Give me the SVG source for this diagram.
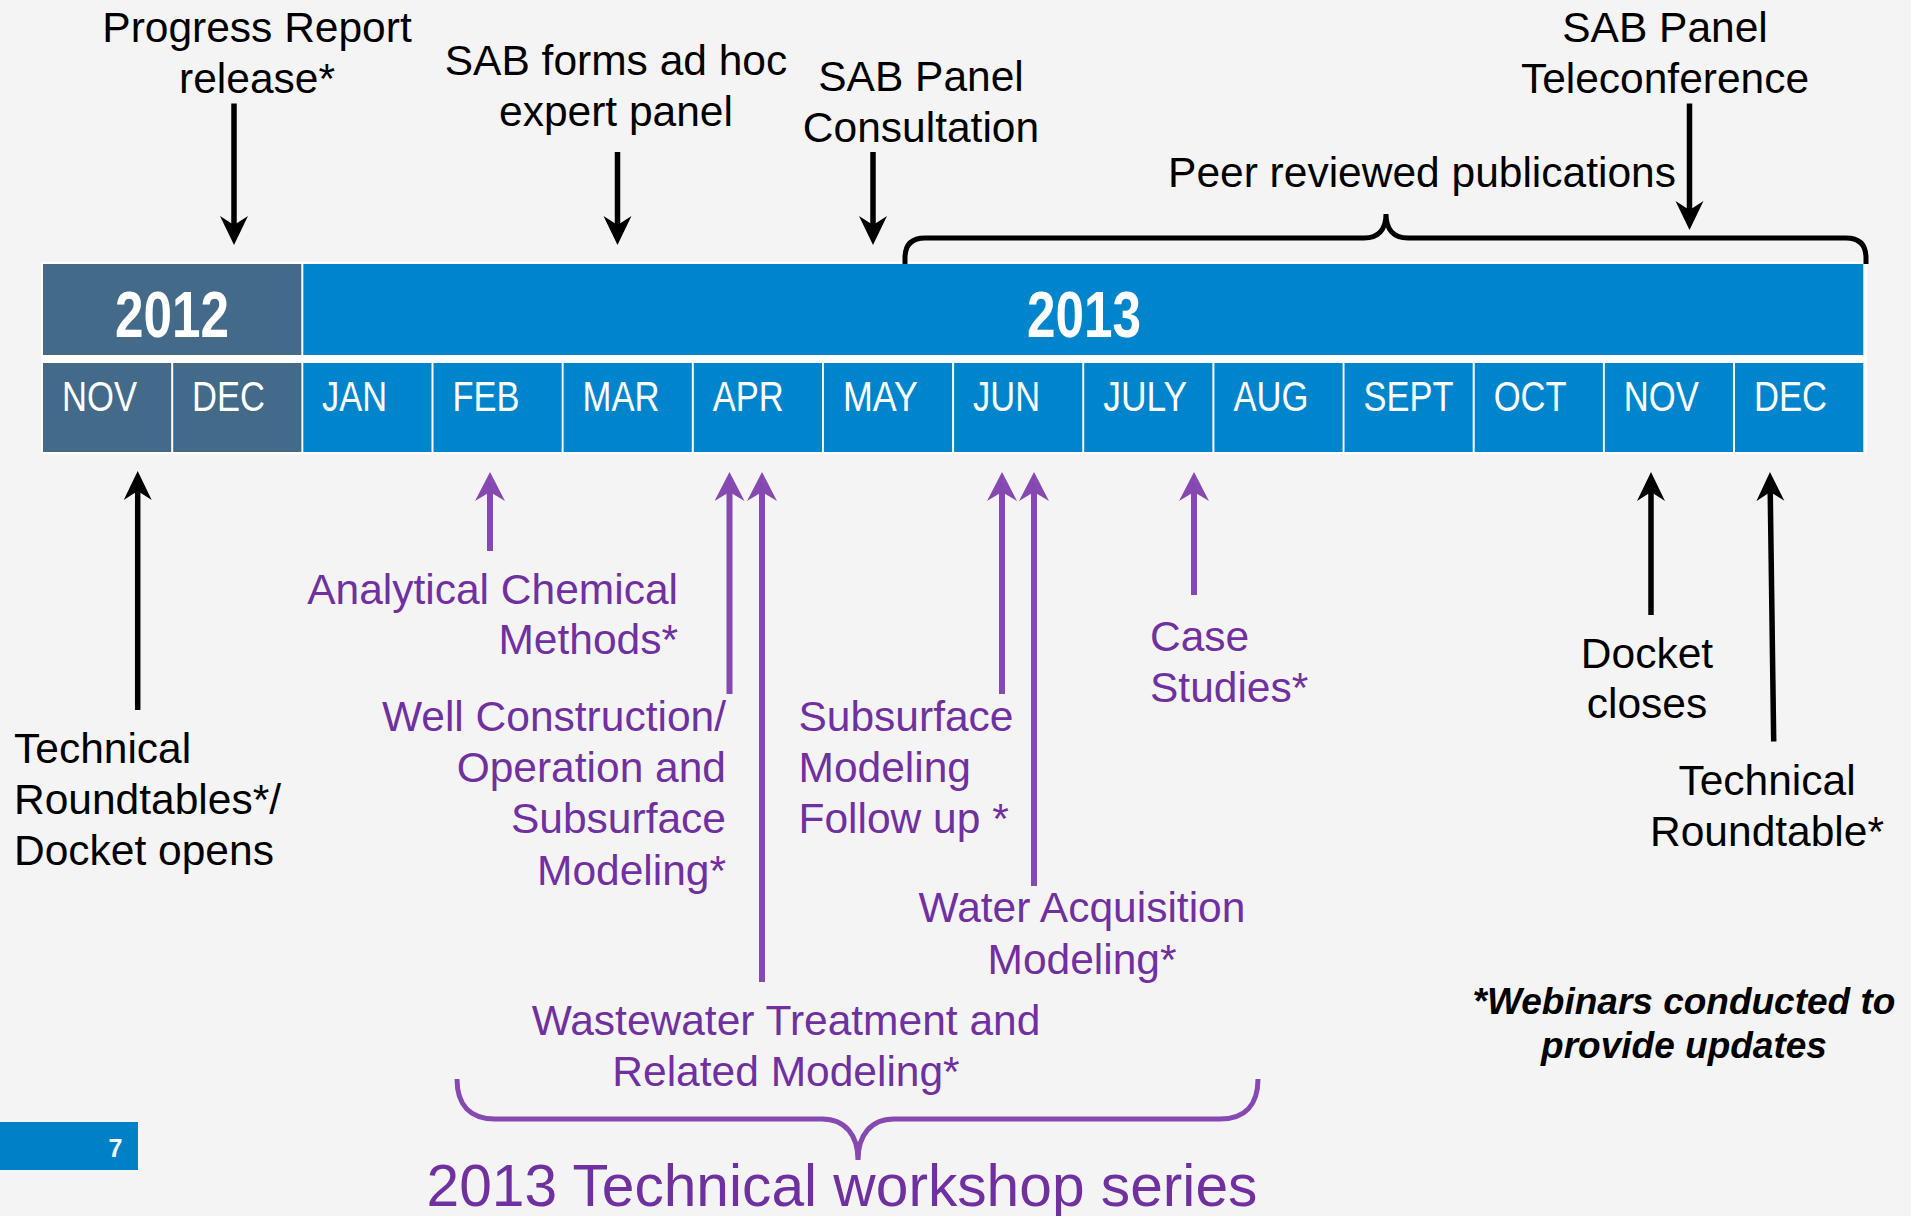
<svg xmlns="http://www.w3.org/2000/svg" width="1911" height="1216" viewBox="0 0 1911 1216">
<style>
text{font-family:"Liberation Sans",Arial,sans-serif}
.lbl{font-size:42.5px;fill:#000}
.pl{font-size:42.5px;fill:#7030a0}
.mid{text-anchor:middle}
.end{text-anchor:end}
.mon{font-family:"Liberation Sans Narrow","Liberation Sans",Arial,sans-serif;font-size:42.5px;fill:#fff}
.yr{font-family:"Liberation Sans Narrow","Liberation Sans",Arial,sans-serif;font-size:64px;font-weight:bold;fill:#fff;text-anchor:middle}
.c12{fill:#436a88}
.c13{fill:#0085cc}
.note{font-size:37px;font-weight:bold;font-style:italic;fill:#000}
.ab{stroke:#000;stroke-width:5.5;fill:none;marker-end:url(#hb)}
.ap{stroke:#8549b1;stroke-width:6;fill:none;marker-end:url(#hp)}
</style>
<defs>
<marker id="hb" markerUnits="userSpaceOnUse" markerWidth="30" markerHeight="30" viewBox="0 -15 30 30" refX="12" refY="0" orient="auto"><path d="M0,-14 L29,0 L0,14 L9,0 Z" fill="#000"/></marker>
<marker id="hp" markerUnits="userSpaceOnUse" markerWidth="30" markerHeight="30" viewBox="0 -15 30 30" refX="12" refY="0" orient="auto"><path d="M0,-15 L29,0 L0,15 L9,0 Z" fill="#8549b1"/></marker>
</defs>
<rect x="0" y="0" width="1911" height="1216" fill="#f4f4f4"/>

<g id="timeline">
<rect x="41" y="262" width="1826" height="192" fill="#fff"/>
<rect class="c12" x="43" y="264" width="258.3" height="91"/>
<rect class="c13" x="303.3" y="264" width="1560" height="91"/>
<text class="yr" x="172" y="337" textLength="114" lengthAdjust="spacingAndGlyphs">2012</text>
<text class="yr" x="1084" y="337" textLength="114" lengthAdjust="spacingAndGlyphs">2013</text>
<rect class="c12" x="43" y="363" width="128.2" height="89"/>
<rect class="c12" x="173.2" y="363" width="128.2" height="89"/>
<rect class="c13" x="303.3" y="363" width="128.2" height="89"/>
<rect class="c13" x="433.5" y="363" width="128.2" height="89"/>
<rect class="c13" x="563.6" y="363" width="128.2" height="89"/>
<rect class="c13" x="693.8" y="363" width="128.2" height="89"/>
<rect class="c13" x="823.9" y="363" width="128.2" height="89"/>
<rect class="c13" x="954.1" y="363" width="128.2" height="89"/>
<rect class="c13" x="1084.2" y="363" width="128.2" height="89"/>
<rect class="c13" x="1214.4" y="363" width="128.2" height="89"/>
<rect class="c13" x="1344.5" y="363" width="128.2" height="89"/>
<rect class="c13" x="1474.7" y="363" width="128.2" height="89"/>
<rect class="c13" x="1604.8" y="363" width="128.2" height="89"/>
<rect class="c13" x="1735" y="363" width="128.3" height="89"/>
<text class="mon" x="62" y="411" textLength="75" lengthAdjust="spacingAndGlyphs">NOV</text>
<text class="mon" x="192" y="411" textLength="73" lengthAdjust="spacingAndGlyphs">DEC</text>
<text class="mon" x="322" y="411" textLength="65" lengthAdjust="spacingAndGlyphs">JAN</text>
<text class="mon" x="452.5" y="411" textLength="67" lengthAdjust="spacingAndGlyphs">FEB</text>
<text class="mon" x="582.6" y="411" textLength="77" lengthAdjust="spacingAndGlyphs">MAR</text>
<text class="mon" x="712.8" y="411" textLength="71" lengthAdjust="spacingAndGlyphs">APR</text>
<text class="mon" x="842.9" y="411" textLength="75" lengthAdjust="spacingAndGlyphs">MAY</text>
<text class="mon" x="973.1" y="411" textLength="67" lengthAdjust="spacingAndGlyphs">JUN</text>
<text class="mon" x="1103.2" y="411" textLength="84" lengthAdjust="spacingAndGlyphs">JULY</text>
<text class="mon" x="1233.4" y="411" textLength="75" lengthAdjust="spacingAndGlyphs">AUG</text>
<text class="mon" x="1363.5" y="411" textLength="90" lengthAdjust="spacingAndGlyphs">SEPT</text>
<text class="mon" x="1493.7" y="411" textLength="73" lengthAdjust="spacingAndGlyphs">OCT</text>
<text class="mon" x="1623.8" y="411" textLength="75" lengthAdjust="spacingAndGlyphs">NOV</text>
<text class="mon" x="1754" y="411" textLength="73" lengthAdjust="spacingAndGlyphs">DEC</text>
</g>

<g id="connectors">
<line class="ab" x1="234" y1="103.5" x2="234" y2="228"/>
<line class="ab" x1="617.5" y1="152" x2="617.5" y2="228"/>
<line class="ab" x1="873" y1="152" x2="873" y2="228"/>
<line class="ab" x1="1689.5" y1="103.5" x2="1689.5" y2="213"/>
<line class="ab" x1="137.7" y1="710" x2="137.7" y2="488"/>
<line class="ab" x1="1651" y1="615" x2="1651" y2="489"/>
<line class="ab" x1="1773.7" y1="741.5" x2="1770.2" y2="489"/>
<line class="ap" x1="490" y1="551" x2="490" y2="489"/>
<line class="ap" x1="729.5" y1="694" x2="729.5" y2="489"/>
<line class="ap" x1="762" y1="982" x2="762" y2="489"/>
<line class="ap" x1="1002" y1="694" x2="1002" y2="489"/>
<line class="ap" x1="1034" y1="886" x2="1034" y2="489"/>
<line class="ap" x1="1194" y1="595" x2="1194" y2="489"/>
<path d="M905,264 V258 Q905,238 925,238 H1364 C1378,238 1386,230 1386,214 C1386,230 1394,238 1408,238 H1846 Q1866,238 1866,258 V264" fill="none" stroke="#000" stroke-width="5"/>
<path d="M457,1079 C457,1105 470,1119 495,1119 H822 C845,1119 858,1135 858,1160 C858,1135 871,1119 894,1119 H1220 C1245,1119 1258,1105 1258,1079" fill="none" stroke="#8549b1" stroke-width="5"/>
</g>

<g id="progress-report"><text class="lbl mid" x="257" y="42">Progress Report</text><text class="lbl mid" x="257" y="93">release*</text></g>
<g id="sab-forms"><text class="lbl mid" x="616" y="75">SAB forms ad hoc</text><text class="lbl mid" x="616" y="126">expert panel</text></g>
<g id="sab-consultation"><text class="lbl mid" x="921" y="90.5">SAB Panel</text><text class="lbl mid" x="921" y="141.5">Consultation</text></g>
<g id="sab-teleconference"><text class="lbl mid" x="1665" y="42">SAB Panel</text><text class="lbl mid" x="1665" y="93">Teleconference</text></g>
<g id="peer-reviewed"><text class="lbl mid" x="1422" y="187">Peer reviewed publications</text></g>

<g id="technical-roundtables"><text class="lbl" x="14" y="762.5">Technical</text><text class="lbl" x="14" y="813.5">Roundtables*/</text><text class="lbl" x="14" y="864.5">Docket opens</text></g>
<g id="analytical"><text class="pl end" x="678" y="603.5">Analytical Chemical</text><text class="pl end" x="678" y="654">Methods*</text></g>
<g id="well-construction"><text class="pl end" x="726" y="730.5">Well Construction/</text><text class="pl end" x="726" y="781.5">Operation and</text><text class="pl end" x="726" y="833">Subsurface</text><text class="pl end" x="726" y="885">Modeling*</text></g>
<g id="subsurface-followup"><text class="pl" x="798.5" y="730.5">Subsurface</text><text class="pl" x="798.5" y="782">Modeling</text><text class="pl" x="798.5" y="832.5">Follow up *</text></g>
<g id="case-studies"><text class="pl" x="1150" y="651">Case</text><text class="pl" x="1150" y="701.5">Studies*</text></g>
<g id="water-acquisition"><text class="pl mid" x="1082" y="922">Water Acquisition</text><text class="pl mid" x="1082" y="973.5">Modeling*</text></g>
<g id="wastewater"><text class="pl mid" x="786" y="1035">Wastewater Treatment and</text><text class="pl mid" x="786" y="1085.5">Related Modeling*</text></g>
<g id="workshop-series"><text class="mid" x="842" y="1206" style="font-size:58.7px;fill:#7030a0">2013 Technical workshop series</text></g>
<g id="docket-closes"><text class="lbl mid" x="1647" y="667.5">Docket</text><text class="lbl mid" x="1647" y="718">closes</text></g>
<g id="technical-roundtable"><text class="lbl mid" x="1767" y="795">Technical</text><text class="lbl mid" x="1767" y="846">Roundtable*</text></g>
<g id="webinars-note"><text class="note mid" x="1684" y="1013.5">*Webinars conducted to</text><text class="note mid" x="1684" y="1058">provide updates</text></g>
<g id="page-number"><rect x="0" y="1122" width="138" height="48" fill="#0080c6"/><text class="mid" x="115.5" y="1157" style="font-size:25px;font-weight:bold;fill:#fff">7</text></g>
</svg>
